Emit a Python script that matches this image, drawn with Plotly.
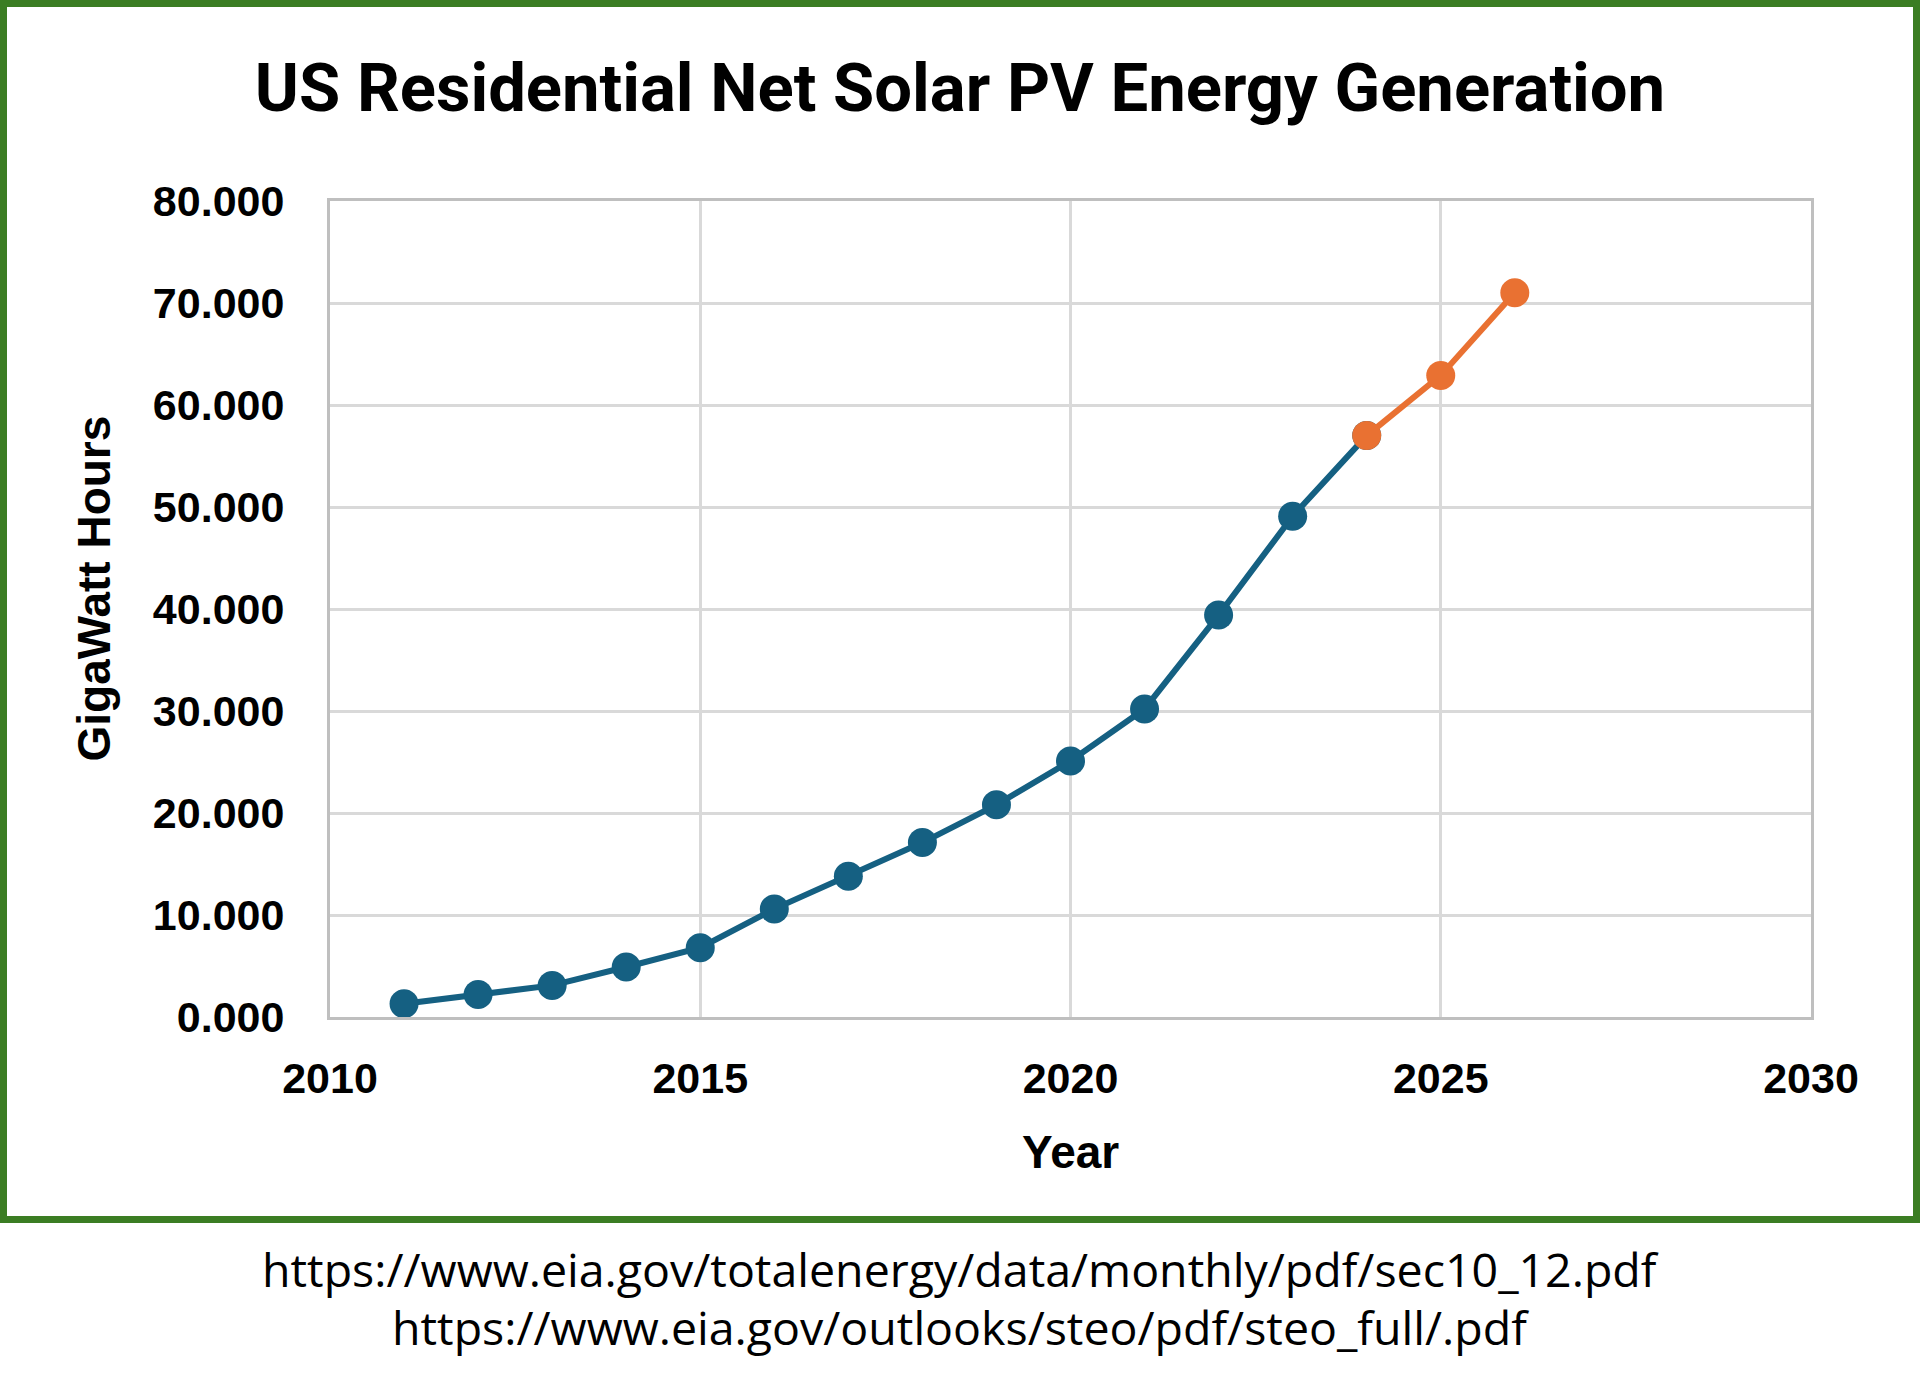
import plotly.graph_objects as go

# EIA residential net solar PV generation (GWh), actual and forecast
years_actual = [2011, 2012, 2013, 2014, 2015, 2016, 2017, 2018, 2019, 2020, 2021, 2022, 2023, 2024]
gwh_actual = [1.3, 2.2, 3.1, 4.9, 6.8, 10.6, 13.8, 17.1, 20.8, 25.1, 30.2, 39.4, 49.1, 57.0]
years_forecast = [2024, 2025, 2026]
gwh_forecast = [57.0, 62.9, 71.0]

sources = [
    "https://www.eia.gov/totalenergy/data/monthly/pdf/sec10_12.pdf",
    "https://www.eia.gov/outlooks/steo/pdf/steo_full/.pdf",
]

BLUE = "#156082"
ORANGE = "#E97132"
GREEN = "#3B7D23"
GRID = "#D9D9D9"
AXIS = "#BFBFBF"
ARIAL = "Liberation Sans, Arial, sans-serif"

fig = go.Figure()
fig.add_trace(go.Scatter(
    x=years_actual, y=gwh_actual, mode="lines+markers",
    line=dict(color=BLUE, width=6),
    marker=dict(color=BLUE, size=29),
    showlegend=False,
))
fig.add_trace(go.Scatter(
    x=years_forecast, y=gwh_forecast, mode="lines+markers",
    line=dict(color=ORANGE, width=6),
    marker=dict(color=ORANGE, size=29),
    showlegend=False,
))

fig.update_layout(
    width=1920, height=1388,
    margin=dict(l=330, r=109, t=201, b=371),
    paper_bgcolor="white", plot_bgcolor="white",
    title=dict(
        text="<b>US Residential Net Solar PV Energy Generation</b>",
        x=0.5, xanchor="center", y=1 - 88 / 1388, yanchor="middle",
        font=dict(family="Roboto, sans-serif", size=67, color="black"),
    ),
)

fig.update_xaxes(
    range=[2010, 2030], dtick=5, tick0=2010,
    showgrid=True, gridcolor=GRID, gridwidth=3,
    showline=True, linecolor=AXIS, linewidth=3, mirror=True,
    zeroline=False, ticks="", ticklabelstandoff=21,
    tickfont=dict(family=ARIAL, size=43, color="black", weight="bold"),
)
fig.update_yaxes(
    range=[0, 80], dtick=10, tickformat=".3f",
    showgrid=True, gridcolor=GRID, gridwidth=3,
    showline=True, linecolor=AXIS, linewidth=3, mirror=True,
    zeroline=False, ticks="", ticklabelstandoff=34,
    tickfont=dict(family=ARIAL, size=43, color="black", weight="bold"),
)

# axis titles
fig.add_annotation(
    text="<b>GigaWatt Hours</b>", textangle=-90,
    xref="paper", yref="paper", x=(93.5 - 330) / 1481, y=(1017 - 588) / 816,
    xanchor="center", yanchor="middle", showarrow=False,
    font=dict(family=ARIAL, size=46, color="black"),
)
fig.add_annotation(
    text="<b>Year</b>",
    xref="paper", yref="paper", x=0.5, y=(1017 - 1152) / 816,
    xanchor="center", yanchor="middle", showarrow=False,
    font=dict(family=ARIAL, size=46, color="black"),
)

# source lines under the framed chart
for i, src in enumerate(sources):
    fig.add_annotation(
        text=src, xref="paper", yref="paper",
        x=(960 - 330) / 1481, y=(1017 - (1269 + 58 * i)) / 816,
        xanchor="center", yanchor="middle", showarrow=False,
        font=dict(family="Open Sans, sans-serif", size=46.5, color="black"),
    )

# green frame around the chart
fig.add_shape(
    type="rect", xref="paper", yref="paper",
    x0=(3.5 - 330) / 1481, x1=(1916.5 - 330) / 1481,
    y0=(1017 - 1219.5) / 816, y1=(1017 - 3.5) / 816,
    line=dict(color=GREEN, width=7), fillcolor="rgba(0,0,0,0)", layer="below",
)

# drop the browser's default body margin so the figure sits at the page corner
fig.write_html(
    "out.html",
    config={"displayModeBar": False},
    post_script="document.body.style.margin='0';",
)
